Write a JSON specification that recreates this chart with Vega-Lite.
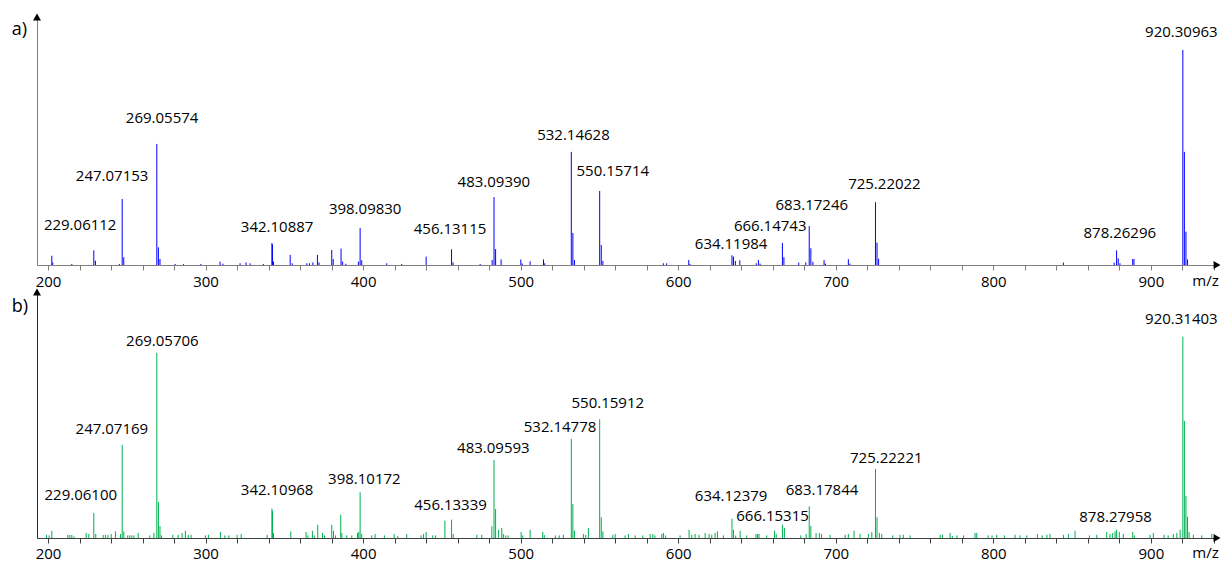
{
  "$schema": "https://vega.github.io/schema/vega-lite/v6.json",
  "background": "white",
  "padding": {"left": 11, "top": 13, "right": 0, "bottom": 0},
  "config": {"view": {"stroke": null}, "font": "Open Sans"},
  "spacing": 27,
  "bounds": "flush",
  "datasets": {
    "spectrumA": [
      {"mz": 202.4, "i": 4.3}, {"mz": 203.0, "i": 1.2}, {"mz": 215.1, "i": 0.5},
      {"mz": 229.06112, "i": 6.8, "lx": 220.4, "ly": 18.6}, {"mz": 230.1, "i": 2.0}, {"mz": 245.3, "i": 0.5},
      {"mz": 247.07153, "i": 30.7, "lx": 240.7, "ly": 41.4}, {"mz": 248.07, "i": 3.6},
      {"mz": 269.05574, "i": 56.3, "lx": 272.4, "ly": 68.4}, {"mz": 270.06, "i": 8.2}, {"mz": 271.06, "i": 2.8},
      {"mz": 280.7, "i": 0.5}, {"mz": 286.0, "i": 0.4}, {"mz": 297.0, "i": 0.5}, {"mz": 309.2, "i": 1.6},
      {"mz": 311.0, "i": 0.6}, {"mz": 321.9, "i": 0.8}, {"mz": 325.7, "i": 1.2}, {"mz": 328.3, "i": 0.8},
      {"mz": 336.7, "i": 0.5}, {"mz": 342.10887, "i": 10.2, "lx": 345.4, "ly": 17.7}, {"mz": 342.45, "i": 9.6},
      {"mz": 343.1, "i": 1.6}, {"mz": 353.7, "i": 4.7}, {"mz": 355.0, "i": 0.8}, {"mz": 364.3, "i": 0.8},
      {"mz": 366.0, "i": 0.8}, {"mz": 368.1, "i": 1.2}, {"mz": 371.0, "i": 4.7}, {"mz": 372.0, "i": 1.2},
      {"mz": 380.1, "i": 7.0}, {"mz": 381.0, "i": 2.8}, {"mz": 386.0, "i": 7.6}, {"mz": 387.0, "i": 1.6},
      {"mz": 389.0, "i": 0.6}, {"mz": 397.0, "i": 1.6}, {"mz": 398.0983, "i": 17.2, "lx": 401.3, "ly": 26.0},
      {"mz": 399.1, "i": 2.2}, {"mz": 415.0, "i": 0.8}, {"mz": 424.5, "i": 0.5}, {"mz": 440.0, "i": 3.9},
      {"mz": 456.13115, "i": 7.3, "lx": 455.2, "ly": 16.7}, {"mz": 457.1, "i": 1.2}, {"mz": 474.3, "i": 0.5},
      {"mz": 481.9, "i": 2.3}, {"mz": 483.0939, "i": 31.6, "lx": 483.0, "ly": 38.6}, {"mz": 484.1, "i": 7.4},
      {"mz": 487.6, "i": 2.6}, {"mz": 500.1, "i": 2.6}, {"mz": 501.0, "i": 0.7}, {"mz": 506.0, "i": 1.7},
      {"mz": 514.5, "i": 2.6}, {"mz": 515.3, "i": 0.8},
      {"mz": 532.14628, "i": 52.6, "lx": 533.5, "ly": 60.5}, {"mz": 533.15, "i": 14.9}, {"mz": 534.2, "i": 2.3},
      {"mz": 550.15714, "i": 34.4, "lx": 558.5, "ly": 43.7}, {"mz": 551.16, "i": 9.3}, {"mz": 552.2, "i": 1.9},
      {"mz": 590.6, "i": 0.8}, {"mz": 592.7, "i": 0.8}, {"mz": 606.7, "i": 2.3}, {"mz": 607.5, "i": 0.5},
      {"mz": 634.11984, "i": 4.5, "lx": 633.6, "ly": 9.6}, {"mz": 635.1, "i": 3.9}, {"mz": 636.3, "i": 1.9},
      {"mz": 639.1, "i": 2.2}, {"mz": 649.5, "i": 0.8}, {"mz": 650.9, "i": 2.3}, {"mz": 652.0, "i": 0.6},
      {"mz": 666.14743, "i": 10.2, "lx": 658.4, "ly": 18.3}, {"mz": 667.1, "i": 3.6}, {"mz": 676.5, "i": 1.1},
      {"mz": 681.0, "i": 1.2}, {"mz": 683.17246, "i": 18.1, "lx": 684.8, "ly": 27.9}, {"mz": 684.2, "i": 7.8},
      {"mz": 685.5, "i": 1.5}, {"mz": 692.6, "i": 2.3}, {"mz": 693.5, "i": 0.6}, {"mz": 708.0, "i": 2.7},
      {"mz": 709.0, "i": 0.6}, {"mz": 725.22022, "i": 29.2, "lx": 730.9, "ly": 37.7}, {"mz": 726.2, "i": 10.4},
      {"mz": 727.2, "i": 2.9}, {"mz": 844.5, "i": 1.1}, {"mz": 876.7, "i": 1.1},
      {"mz": 878.26296, "i": 6.8, "lx": 880.3, "ly": 14.9}, {"mz": 879.3, "i": 3.1}, {"mz": 880.4, "i": 0.8},
      {"mz": 888.5, "i": 2.8}, {"mz": 889.3, "i": 2.8},
      {"mz": 920.30963, "i": 100, "lx": 919.4, "ly": 108.4}, {"mz": 921.3, "i": 52.6}, {"mz": 922.3, "i": 15.5},
      {"mz": 923.3, "i": 2.6}
    ],
    "spectrumB": [
      {"mz": 199.0, "i": 1.6}, {"mz": 200.7, "i": 1.3}, {"mz": 202.4, "i": 3.6}, {"mz": 212.6, "i": 1.5},
      {"mz": 213.8, "i": 1.5}, {"mz": 215.1, "i": 1.5}, {"mz": 216.4, "i": 0.8}, {"mz": 224.2, "i": 2.5},
      {"mz": 225.9, "i": 2.0}, {"mz": 229.061, "i": 12.4, "lx": 220.8, "ly": 21.4}, {"mz": 230.3, "i": 2.0},
      {"mz": 235.0, "i": 1.5}, {"mz": 236.4, "i": 1.5}, {"mz": 238.0, "i": 1.5}, {"mz": 240.1, "i": 2.0},
      {"mz": 242.8, "i": 3.3}, {"mz": 246.0, "i": 2.0}, {"mz": 247.07169, "i": 46.2, "lx": 240.5, "ly": 54.0},
      {"mz": 248.1, "i": 3.3}, {"mz": 250.6, "i": 1.3}, {"mz": 251.9, "i": 1.3}, {"mz": 253.2, "i": 1.3},
      {"mz": 254.5, "i": 1.3}, {"mz": 257.2, "i": 2.5}, {"mz": 264.6, "i": 1.3}, {"mz": 267.2, "i": 2.5},
      {"mz": 269.05706, "i": 92, "lx": 272.6, "ly": 98.0}, {"mz": 270.06, "i": 18}, {"mz": 271.06, "i": 6},
      {"mz": 272.0, "i": 1.3}, {"mz": 279.2, "i": 1.6}, {"mz": 282.6, "i": 1.6}, {"mz": 285.1, "i": 2.5},
      {"mz": 287.2, "i": 3.6}, {"mz": 289.0, "i": 1.5}, {"mz": 290.8, "i": 1.6}, {"mz": 299.9, "i": 1.3},
      {"mz": 301.8, "i": 1.6}, {"mz": 309.4, "i": 3.0}, {"mz": 312.2, "i": 1.3}, {"mz": 314.8, "i": 1.3},
      {"mz": 320.0, "i": 1.6}, {"mz": 322.6, "i": 2.0}, {"mz": 339.1, "i": 1.6},
      {"mz": 342.10968, "i": 14.6, "lx": 345.4, "ly": 23.8}, {"mz": 342.45, "i": 13.5}, {"mz": 343.1, "i": 2.5},
      {"mz": 354.1, "i": 3.3}, {"mz": 363.8, "i": 3.0}, {"mz": 365.0, "i": 1.3}, {"mz": 367.8, "i": 3.6},
      {"mz": 369.0, "i": 1.3}, {"mz": 371.2, "i": 6.6}, {"mz": 374.2, "i": 2.5}, {"mz": 375.5, "i": 1.3},
      {"mz": 380.1, "i": 6.6}, {"mz": 381.2, "i": 3.6}, {"mz": 382.5, "i": 1.3}, {"mz": 385.8, "i": 11.6},
      {"mz": 386.5, "i": 2.5}, {"mz": 389.6, "i": 1.3}, {"mz": 392.8, "i": 1.3}, {"mz": 396.4, "i": 2.5},
      {"mz": 397.2, "i": 3.0}, {"mz": 398.10172, "i": 22.7, "lx": 400.8, "ly": 29.2}, {"mz": 399.1, "i": 2.0},
      {"mz": 405.5, "i": 1.3}, {"mz": 407.6, "i": 2.0}, {"mz": 413.5, "i": 1.3}, {"mz": 419.7, "i": 2.0},
      {"mz": 422.0, "i": 1.0}, {"mz": 427.7, "i": 2.0}, {"mz": 436.8, "i": 1.3}, {"mz": 438.3, "i": 2.0},
      {"mz": 440.0, "i": 3.0}, {"mz": 444.2, "i": 1.3}, {"mz": 446.0, "i": 1.3}, {"mz": 451.9, "i": 8.6},
      {"mz": 456.13339, "i": 9.1, "lx": 455.5, "ly": 16.2}, {"mz": 457.2, "i": 2.0}, {"mz": 472.2, "i": 1.6},
      {"mz": 475.3, "i": 1.6}, {"mz": 481.7, "i": 5.8}, {"mz": 483.09593, "i": 38.7, "lx": 482.7, "ly": 44.9},
      {"mz": 484.1, "i": 14.4}, {"mz": 486.0, "i": 4.1}, {"mz": 488.0, "i": 5.0}, {"mz": 489.0, "i": 2.0},
      {"mz": 490.5, "i": 1.3}, {"mz": 492.0, "i": 1.3}, {"mz": 500.3, "i": 3.0}, {"mz": 501.3, "i": 1.3},
      {"mz": 506.0, "i": 4.1}, {"mz": 514.0, "i": 3.0}, {"mz": 515.0, "i": 1.5}, {"mz": 522.0, "i": 1.3},
      {"mz": 524.5, "i": 1.3}, {"mz": 527.1, "i": 1.6}, {"mz": 532.14778, "i": 49.2, "lx": 525.0, "ly": 55.0},
      {"mz": 533.15, "i": 16.9}, {"mz": 534.1, "i": 3.6}, {"mz": 539.8, "i": 2.0}, {"mz": 541.3, "i": 1.5},
      {"mz": 543.0, "i": 5.0}, {"mz": 550.15912, "i": 59.0, "lx": 555.3, "ly": 66.9}, {"mz": 551.16, "i": 10.3},
      {"mz": 552.2, "i": 3.3}, {"mz": 558.5, "i": 1.6}, {"mz": 560.0, "i": 2.0}, {"mz": 566.3, "i": 1.3},
      {"mz": 568.4, "i": 2.0}, {"mz": 572.7, "i": 1.3}, {"mz": 577.5, "i": 1.3}, {"mz": 582.2, "i": 2.0},
      {"mz": 583.9, "i": 2.0}, {"mz": 585.2, "i": 1.3}, {"mz": 589.6, "i": 2.0}, {"mz": 590.6, "i": 2.5},
      {"mz": 592.0, "i": 1.3}, {"mz": 601.2, "i": 1.3}, {"mz": 606.9, "i": 4.1}, {"mz": 608.6, "i": 1.6},
      {"mz": 610.7, "i": 2.0}, {"mz": 613.2, "i": 1.6}, {"mz": 617.1, "i": 2.5}, {"mz": 619.6, "i": 2.0},
      {"mz": 621.3, "i": 1.6}, {"mz": 623.4, "i": 2.5}, {"mz": 624.9, "i": 3.3}, {"mz": 628.7, "i": 1.3},
      {"mz": 634.12379, "i": 9.6, "lx": 633.6, "ly": 20.9}, {"mz": 635.1, "i": 4.1}, {"mz": 636.5, "i": 1.3},
      {"mz": 639.3, "i": 3.6}, {"mz": 643.5, "i": 1.3}, {"mz": 649.4, "i": 2.0}, {"mz": 650.4, "i": 2.0},
      {"mz": 651.3, "i": 2.0}, {"mz": 656.2, "i": 1.3}, {"mz": 661.1, "i": 3.6}, {"mz": 662.2, "i": 2.0},
      {"mz": 666.15315, "i": 6.6, "lx": 659.9, "ly": 10.9}, {"mz": 667.4, "i": 5.0}, {"mz": 677.8, "i": 1.3},
      {"mz": 681.2, "i": 2.0}, {"mz": 683.17844, "i": 15.7, "lx": 691.3, "ly": 23.8}, {"mz": 684.2, "i": 6.0},
      {"mz": 687.5, "i": 2.5}, {"mz": 689.6, "i": 2.5}, {"mz": 691.0, "i": 2.0}, {"mz": 696.4, "i": 1.6},
      {"mz": 706.0, "i": 1.6}, {"mz": 708.0, "i": 2.0}, {"mz": 711.6, "i": 3.6}, {"mz": 715.4, "i": 2.0},
      {"mz": 720.7, "i": 2.0}, {"mz": 722.9, "i": 3.0}, {"mz": 725.22221, "i": 34.3, "lx": 732.1, "ly": 39.6},
      {"mz": 726.2, "i": 10.3}, {"mz": 727.7, "i": 2.5}, {"mz": 729.2, "i": 2.0}, {"mz": 736.2, "i": 1.3},
      {"mz": 740.8, "i": 1.6}, {"mz": 742.9, "i": 1.6}, {"mz": 747.2, "i": 1.3}, {"mz": 766.3, "i": 1.6},
      {"mz": 767.7, "i": 1.6}, {"mz": 772.6, "i": 2.5}, {"mz": 774.0, "i": 1.0}, {"mz": 776.9, "i": 1.3},
      {"mz": 781.1, "i": 1.3}, {"mz": 788.4, "i": 2.5}, {"mz": 789.5, "i": 2.5}, {"mz": 796.7, "i": 1.3},
      {"mz": 799.2, "i": 1.3}, {"mz": 802.2, "i": 1.6}, {"mz": 807.0, "i": 1.3}, {"mz": 813.8, "i": 1.6},
      {"mz": 817.0, "i": 1.3}, {"mz": 821.3, "i": 1.3}, {"mz": 828.0, "i": 2.0}, {"mz": 831.0, "i": 1.3},
      {"mz": 834.0, "i": 1.6}, {"mz": 836.0, "i": 2.0}, {"mz": 844.5, "i": 1.6}, {"mz": 847.7, "i": 2.0},
      {"mz": 851.9, "i": 3.6}, {"mz": 861.0, "i": 1.3}, {"mz": 865.7, "i": 1.6}, {"mz": 872.0, "i": 3.0},
      {"mz": 874.1, "i": 2.0}, {"mz": 875.8, "i": 2.5}, {"mz": 877.3, "i": 3.3},
      {"mz": 878.27958, "i": 4.1, "lx": 877.6, "ly": 10.6}, {"mz": 880.0, "i": 3.0}, {"mz": 882.5, "i": 2.0},
      {"mz": 888.5, "i": 3.0}, {"mz": 889.5, "i": 1.3}, {"mz": 899.5, "i": 1.6}, {"mz": 901.6, "i": 2.5},
      {"mz": 908.4, "i": 1.6}, {"mz": 911.0, "i": 1.3}, {"mz": 914.3, "i": 2.0}, {"mz": 916.5, "i": 2.5},
      {"mz": 918.6, "i": 4.1}, {"mz": 920.31403, "i": 100, "lx": 919.4, "ly": 108.6}, {"mz": 921.3, "i": 58.1},
      {"mz": 922.3, "i": 20.9}, {"mz": 923.3, "i": 10.6}, {"mz": 924.3, "i": 3.0}, {"mz": 927.0, "i": 1.6},
      {"mz": 932.3, "i": 1.3}, {"mz": 938.7, "i": 2.0}
    ]
  },
  "vconcat": [
    {
      "width": 1180,
      "height": 248,
      "data": {"name": "spectrumA"},
      "resolve": {"axis": {"x": "independent"}},
      "layer": [
        {
          "mark": {"type": "rule", "color": "#0000ff", "strokeWidth": 1},
          "encoding": {
            "x": {
              "field": "mz", "type": "quantitative", "title": null,
              "scale": {"domain": [193, 942], "nice": false, "zero": false},
              "axis": {
                "orient": "bottom", "title": null, "grid": false,
                "values": [200, 300, 400, 500, 600, 700, 800, 900],
                "labelFlush": false, "labelOverlap": false,
                "tickSize": 5, "tickColor": "#7f7f7f", "domainColor": "#7f7f7f",
                "labelFont": "Open Sans", "labelFontSize": 15, "labelColor": "#000000", "labelPadding": 4
              }
            },
            "y": {
              "field": "i", "type": "quantitative", "title": null,
              "scale": {"domain": [0, 115.3], "nice": false},
              "axis": {"title": null, "labels": false, "ticks": false, "grid": false, "domainColor": "#7f7f7f"}
            },
            "y2": {"datum": 0}
          }
        },
        {
          "transform": [{"filter": "isValid(datum.lx)"}],
          "mark": {"type": "text", "font": "Open Sans", "fontSize": 15, "color": "#000000", "align": "center", "baseline": "middle"},
          "encoding": {
            "x": {
              "field": "lx", "type": "quantitative", "title": null,
              "axis": {
                "orient": "bottom", "title": null, "grid": false, "labels": false, "domain": false,
                "values": [220, 240, 260, 280, 320, 340, 360, 380, 420, 440, 460, 480, 520, 540, 560, 580, 620, 640, 660, 680, 720, 740, 760, 780, 820, 840, 860, 880, 920, 940],
                "tickSize": 5, "tickColor": "#7f7f7f"
              }
            },
            "y": {"field": "ly", "type": "quantitative", "title": null},
            "text": {"field": "mz", "type": "quantitative", "format": ".5f"}
          }
        },
        {
          "data": {"values": [{}]},
          "mark": {"type": "point", "shape": "triangle-right", "filled": true, "color": "#000000", "opacity": 1, "size": 64},
          "encoding": {"x": {"datum": 942, "type": "quantitative", "axis": null}, "y": {"datum": 0, "type": "quantitative", "title": null}}
        },
        {
          "data": {"values": [{}]},
          "mark": {"type": "point", "shape": "triangle-up", "filled": true, "color": "#000000", "opacity": 1, "size": 64},
          "encoding": {"x": {"datum": 193, "type": "quantitative", "axis": null}, "y": {"datum": 115.3, "type": "quantitative", "title": null}}
        },
        {
          "data": {"values": [{}]},
          "mark": {"type": "text", "text": "a)", "font": "Open Sans", "fontSize": 18, "color": "#000000", "align": "right", "baseline": "middle", "dx": -10, "dy": 12.5},
          "encoding": {"x": {"datum": 193, "type": "quantitative", "axis": null}, "y": {"datum": 115.3, "type": "quantitative", "title": null}}
        },
        {
          "data": {"values": [{}]},
          "mark": {"type": "text", "text": "m/z", "font": "Open Sans", "fontSize": 15, "color": "#000000", "align": "center", "baseline": "alphabetic", "dy": 20.5},
          "encoding": {"x": {"datum": 934.7, "type": "quantitative", "axis": null}, "y": {"datum": 0, "type": "quantitative", "title": null}}
        }
      ]
    },
    {
      "width": 1180,
      "height": 246,
      "data": {"name": "spectrumB"},
      "resolve": {"axis": {"x": "independent"}},
      "layer": [
        {
          "mark": {"type": "rule", "color": "#00b050", "strokeWidth": 1},
          "encoding": {
            "x": {
              "field": "mz", "type": "quantitative", "title": null,
              "scale": {"domain": [193, 942], "nice": false, "zero": false},
              "axis": {
                "orient": "bottom", "title": null, "grid": false,
                "values": [200, 300, 400, 500, 600, 700, 800, 900],
                "labelFlush": false, "labelOverlap": false,
                "tickSize": 5, "tickColor": "#404040", "domainColor": "#404040",
                "labelFont": "Open Sans", "labelFontSize": 15, "labelColor": "#000000", "labelPadding": 3
              }
            },
            "y": {
              "field": "i", "type": "quantitative", "title": null,
              "scale": {"domain": [0, 122.2], "nice": false},
              "axis": {"title": null, "labels": false, "ticks": false, "grid": false, "domainColor": "#262626"}
            },
            "y2": {"datum": 0}
          }
        },
        {
          "transform": [{"filter": "isValid(datum.lx)"}],
          "mark": {"type": "text", "font": "Open Sans", "fontSize": 15, "color": "#000000", "align": "center", "baseline": "middle"},
          "encoding": {
            "x": {
              "field": "lx", "type": "quantitative", "title": null,
              "axis": {
                "orient": "bottom", "title": null, "grid": false, "labels": false, "domain": false,
                "values": [220, 240, 260, 280, 320, 340, 360, 380, 420, 440, 460, 480, 520, 540, 560, 580, 620, 640, 660, 680, 720, 740, 760, 780, 820, 840, 860, 880, 920, 940],
                "tickSize": 5, "tickColor": "#404040"
              }
            },
            "y": {"field": "ly", "type": "quantitative", "title": null},
            "text": {"field": "mz", "type": "quantitative", "format": ".5f"}
          }
        },
        {
          "data": {"values": [{}]},
          "mark": {"type": "point", "shape": "triangle-right", "filled": true, "color": "#000000", "opacity": 1, "size": 64},
          "encoding": {"x": {"datum": 942, "type": "quantitative", "axis": null}, "y": {"datum": 0, "type": "quantitative", "title": null}}
        },
        {
          "data": {"values": [{}]},
          "mark": {"type": "point", "shape": "triangle-up", "filled": true, "color": "#000000", "opacity": 1, "size": 64},
          "encoding": {"x": {"datum": 193, "type": "quantitative", "axis": null}, "y": {"datum": 122.2, "type": "quantitative", "title": null}}
        },
        {
          "data": {"values": [{}]},
          "mark": {"type": "text", "text": "b)", "font": "Open Sans", "fontSize": 18, "color": "#000000", "align": "right", "baseline": "middle", "dx": -9, "dy": 14.5},
          "encoding": {"x": {"datum": 193, "type": "quantitative", "axis": null}, "y": {"datum": 122.2, "type": "quantitative", "title": null}}
        },
        {
          "data": {"values": [{}]},
          "mark": {"type": "text", "text": "m/z", "font": "Open Sans", "fontSize": 15, "color": "#000000", "align": "center", "baseline": "alphabetic", "dy": 19.5},
          "encoding": {"x": {"datum": 934.7, "type": "quantitative", "axis": null}, "y": {"datum": 0, "type": "quantitative", "title": null}}
        }
      ]
    }
  ]
}
